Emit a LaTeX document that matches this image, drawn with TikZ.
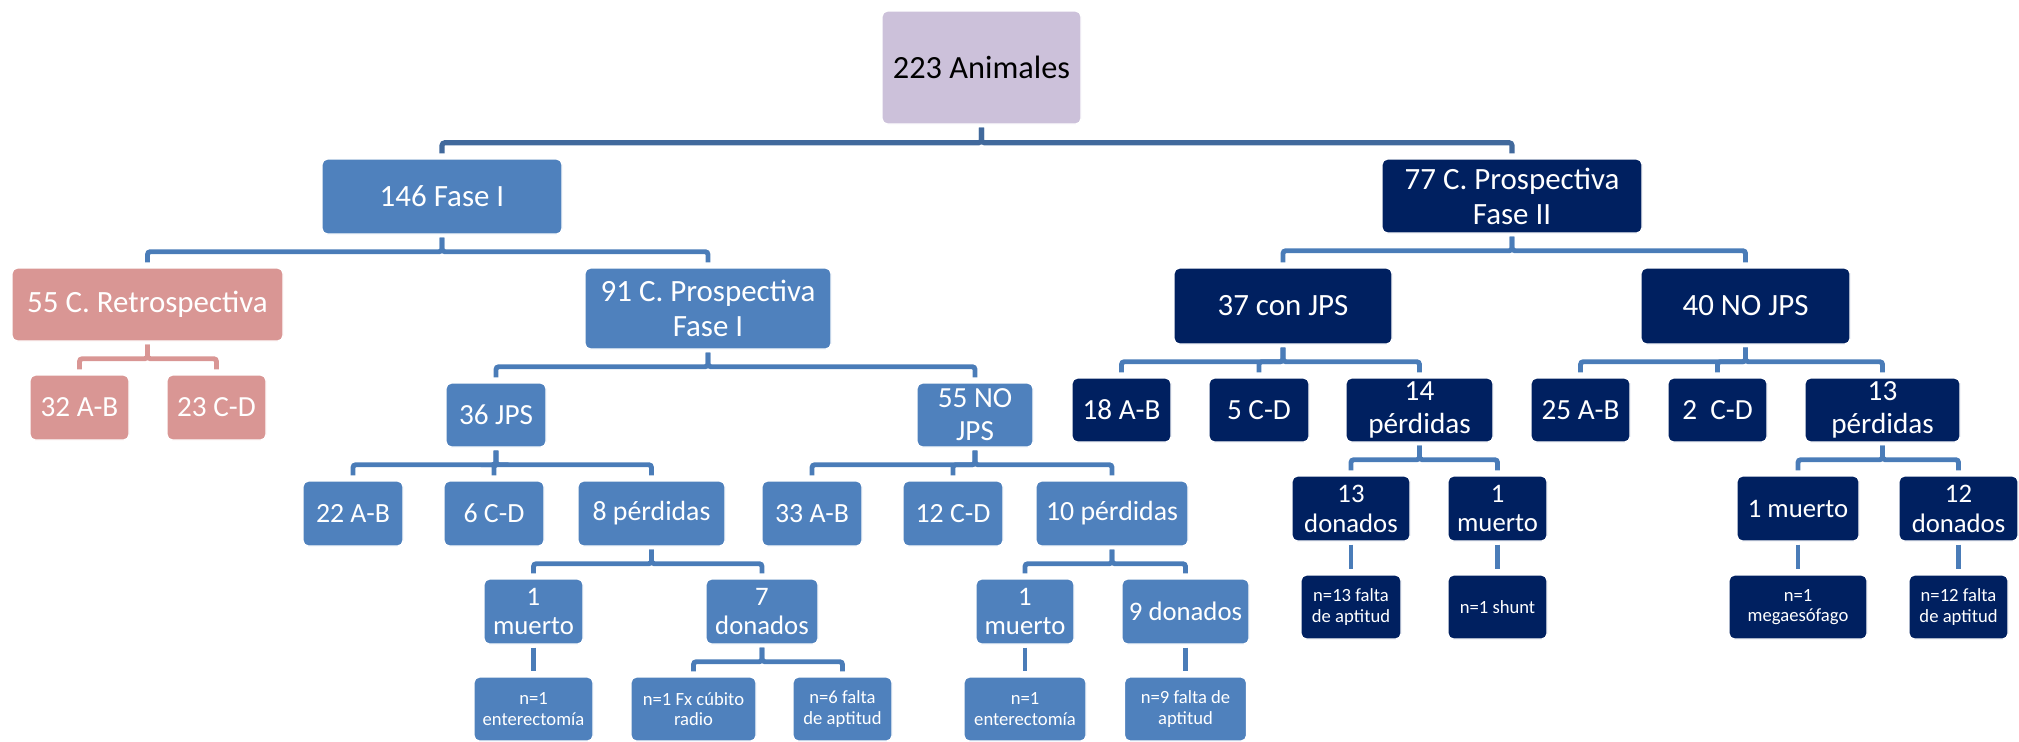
\documentclass[tikz,border=0pt]{standalone}
\usepackage{fontspec}
\setmainfont{Carlito}
\usetikzlibrary{calc}
\definecolor{lila}{HTML}{CCC1DA}
\definecolor{azul}{HTML}{4F81BD}
\definecolor{marino}{HTML}{002060}
\definecolor{rosa}{HTML}{D99694}
\definecolor{linea}{HTML}{4A7CB8}
\definecolor{lineatop}{HTML}{41699C}

\begin{document}
\begin{tikzpicture}[x = 0.01cm, y = -0.01cm,
    caja/.style = {rounded corners = 1.5pt, inner sep = 0pt, align = center, text = white,
                   draw = white, line width = 0.4pt},
    tam/.style 2 args = {minimum width = #1*0.01cm, minimum height = #2*0.01cm},
    fA/.style = {font = \fontsize{9.2}{10.5}\selectfont},
    fB/.style = {font = \fontsize{8.8}{10}\selectfont},
    fC/.style = {font = \fontsize{8.3}{9.4}\selectfont},
    fD/.style = {font = \fontsize{7.9}{9}\selectfont},
    fE/.style = {font = \fontsize{7.6}{8.5}\selectfont},
    fF/.style = {font = \fontsize{5.3}{5.9}\selectfont},
    enlace/.style = {line width = 1.4pt, draw = linea, rounded corners = 0.8pt,
                     shorten <= 0.03cm, shorten >= 0.05cm}]
      \useasboundingbox (0,0) rectangle (2019,741);
      \clip (0,0) rectangle (2019,741);
      % nivel 1 y 2
      \node[caja, fill = lila, text = black, tam = {199}{113}, fA] (raiz) at (981.5,67.5) {223 Animales};
      \node[caja, fill = azul, tam = {240}{75}, fB] (fase1) at (442,196.5) {146 Fase I};
      \node[caja, fill = marino, tam = {260}{74}, fB] (fase2) at (1512,196) {77 C. Prospectiva\\Fase II};
      \node[caja, fill = rosa, tam = {271}{73}, fB] (retro) at (147.5,304.5) {55 C. Retrospectiva};
      \node[caja, fill = azul, tam = {246}{81}, fB] (pros1) at (708,308.5) {91 C. Prospectiva\\Fase I};
      \node[caja, fill = marino, tam = {218}{76}, fB] (conjps) at (1283,306) {37 con JPS};
      \node[caja, fill = marino, tam = {209}{76}, fB] (nojps2) at (1745.5,306) {40 NO JPS};
      % nivel 3
      \node[caja, fill = rosa, tam = {99}{65}, fC] (ab32) at (79.5,407.5) {32 A-B};
      \node[caja, fill = rosa, tam = {99}{65}, fC] (cd23) at (216.5,407.5) {23 C-D};
      \node[caja, fill = azul, tam = {100}{64}, fC] (jps1) at (496,415) {36 JPS};
      \node[caja, fill = azul, tam = {116}{64}, fC] (nojps1) at (975,415) {55 NO\\JPS};
      \node[caja, fill = marino, tam = {99}{64}, fC] (ab18) at (1121.5,410) {18 A-B};
      \node[caja, fill = marino, tam = {100}{64}, fC] (cd5) at (1259,410) {5 C-D};
      \node[caja, fill = marino, tam = {147}{64}, fC] (per14) at (1419.5,410) {14\\pérdidas};
      \node[caja, fill = marino, tam = {99}{64}, fC] (ab25) at (1580.5,410) {25 A-B};
      \node[caja, fill = marino, tam = {99}{64}, fC] (cd2) at (1717.5,410) {2~ C-D};
      \node[caja, fill = marino, tam = {155}{64}, fC] (per13) at (1882.5,410) {13\\pérdidas};
      % nivel 4
      \node[caja, fill = azul, tam = {100}{65}, fD] (ab22) at (353,513.5) {22 A-B};
      \node[caja, fill = azul, tam = {100}{65}, fD] (cd6) at (494,513.5) {6 C-D};
      \node[caja, fill = azul, tam = {147}{65}, fD] (per8) at (651.5,513.5) {8 pérdidas};
      \node[caja, fill = azul, tam = {100}{65}, fD] (ab33) at (812,513.5) {33 A-B};
      \node[caja, fill = azul, tam = {100}{65}, fD] (cd12) at (953,513.5) {12 C-D};
      \node[caja, fill = azul, tam = {152}{65}, fD] (per10) at (1112,513.5) {10 pérdidas};
      \node[caja, fill = marino, tam = {118}{65}, fE] (don13) at (1351,508.5) {13\\donados};
      \node[caja, fill = marino, tam = {99}{65}, fE] (mue1c) at (1497.5,508.5) {1\\muerto};
      \node[caja, fill = marino, tam = {122}{65}, fE] (mue1d) at (1798,508.5) {1 muerto};
      \node[caja, fill = marino, tam = {119}{65}, fE] (don12) at (1958.5,508.5) {12\\donados};
      % nivel 5
      \node[caja, fill = azul, tam = {99}{65}, fE] (mue1a) at (533.5,611.5) {1\\muerto};
      \node[caja, fill = azul, tam = {112}{65}, fE] (don7) at (762,611.5) {7\\donados};
      \node[caja, fill = azul, tam = {98}{65}, fE] (mue1b) at (1025,611.5) {1\\muerto};
      \node[caja, fill = azul, tam = {127}{65}, fE] (don9) at (1185.5,611.5) {9 donados};
      \node[caja, fill = marino, tam = {100}{64}, fF] (fal13) at (1351,607) {n=13 falta\\de aptitud};
      \node[caja, fill = marino, tam = {99}{64}, fF] (shunt) at (1497.5,607) {n=1 shunt};
      \node[caja, fill = marino, tam = {138}{64}, fF] (mega) at (1798,607) {n=1\\megaesófago};
      \node[caja, fill = marino, tam = {99}{64}, fF] (fal12) at (1958.5,607) {n=12 falta\\de aptitud};
      % nivel 6
      \node[caja, fill = azul, tam = {119}{64}, fF] (ent1) at (533.5,709) {n=1\\enterectomía};
      \node[caja, fill = azul, tam = {125}{64}, fF] (fx1) at (693.5,709) {n=1 Fx cúbito\\radio};
      \node[caja, fill = azul, tam = {99}{64}, fF] (fal6) at (842.5,709) {n=6 falta\\de aptitud};
      \node[caja, fill = azul, tam = {122}{64}, fF] (ent2) at (1025,709) {n=1\\enterectomía};
      \node[caja, fill = azul, tam = {122}{64}, fF] (fal9) at (1185.5,709) {n=9 falta de\\aptitud};
      % conectores
      \foreach \p/\c in {raiz/fase1, raiz/fase2}
        \draw[enlace, draw = lineatop, line width = 1.45pt] (\p.south) -- ($(\p.south)+(0,18)$) -| (\c.north);
      \foreach \p/\c in {retro/ab32, retro/cd23}
        \draw[enlace, draw = rosa] (\p.south) -- ($(\p.south)+(0,17)$) -| (\c.north);
      \foreach \p/\c in {fase1/retro, fase1/pros1, fase2/conjps, fase2/nojps2,
                         pros1/jps1, pros1/nojps1, conjps/ab18, conjps/cd5, conjps/per14,
                         nojps2/ab25, nojps2/cd2, nojps2/per13,
                         jps1/ab22, jps1/cd6, jps1/per8, nojps1/ab33, nojps1/cd12, nojps1/per10,
                         per14/don13, per14/mue1c, per13/mue1d, per13/don12,
                         per8/mue1a, per8/don7, per10/mue1b, per10/don9, don7/fx1, don7/fal6}
        \draw[enlace] (\p.south) -- ($(\p.south)+(0,17)$) -| (\c.north);
      % lineas rectas
      \foreach \p/\c in {don13/fal13, mue1c/shunt, mue1d/mega, don12/fal12,
                         mue1a/ent1, mue1b/ent2, don9/fal9}
        \draw[enlace] (\p.south) -- (\p.south |- \c.north);
    \end{tikzpicture}
\end{document}
